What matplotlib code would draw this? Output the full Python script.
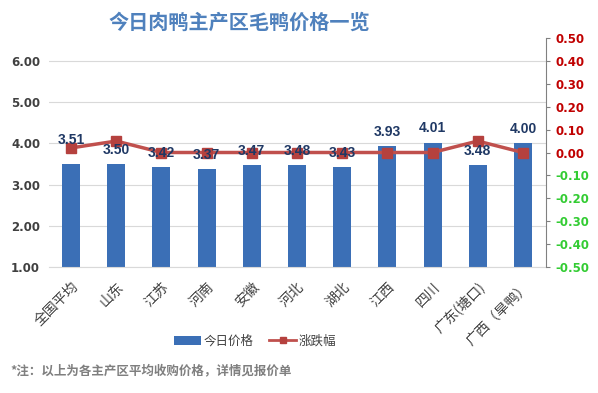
import matplotlib
matplotlib.use("Agg")
import matplotlib.pyplot as plt
import numpy as np

plt.rcParams['font.family'] = ['Noto Sans CJK SC', 'DejaVu Sans']

categories = ['全国平均', '山东', '江苏', '河南', '安徽', '河北', '湖北', '江西', '四川', '广东(塘口)', '广西（旱鸭）']
prices = [3.51, 3.50, 3.42, 3.37, 3.47, 3.48, 3.43, 3.93, 4.01, 3.48, 4.00]
changes = [0.02, 0.05, 0.00, 0.00, 0.00, 0.00, 0.00, 0.00, 0.00, 0.05, 0.00]
left_ticks = [1.0, 2.0, 3.0, 4.0, 5.0, 6.0]
right_ticks = [-0.5, -0.4, -0.3, -0.2, -0.1, 0.0, 0.1, 0.2, 0.3, 0.4, 0.5]

W, H = 598, 393
fig = plt.figure(figsize=(W/100, H/100), dpi=100)
fig.patch.set_facecolor('white')

ax = fig.add_axes([48.5/W, (H-267)/H, 497/W, 229/H])
x = np.arange(len(categories))
bar_color = '#3B6FB6'
ax.bar(x, prices, width=0.4, color=bar_color, zorder=2)
ax.set_xlim(-0.5, len(categories)-0.5)
ax.set_ylim(1, 6.56)
ax.set_yticks(left_ticks)
ax.set_yticklabels([f'{v:.2f}' for v in left_ticks], fontsize=8.5, color='#404040', fontweight='bold', family='DejaVu Sans')
ax.yaxis.grid(True, color='#D9D9D9', linewidth=0.8, zorder=0)
ax.set_axisbelow(True)
for s in ['top', 'right', 'left']:
    ax.spines[s].set_visible(False)
ax.spines['bottom'].set_color('#D9D9D9')
ax.tick_params(axis='y', length=0, pad=6)
ax.tick_params(axis='x', length=0, pad=9)
ax.set_xticks(x)
ax.set_xticklabels(categories, rotation=45, ha='right', va='top', rotation_mode='anchor', fontsize=10, color='#404040')

ax2 = ax.twinx()
line_color = '#C0504D'
ax2.plot(x, changes, color=line_color, linewidth=2.5, marker='s', markersize=6.5,
         markerfacecolor='#B5413E', markeredgecolor='#B5413E', zorder=4)
ax2.set_ylim(-0.5, 0.5)
ax2.set_yticks(right_ticks)
labs = ax2.set_yticklabels([f'{v:.2f}' for v in right_ticks], fontsize=8.5, fontweight='bold', family='DejaVu Sans')
for v, t in zip(right_ticks, labs):
    t.set_color('#C00000' if v >= 0 else '#33CC33')
for s in ['top', 'left', 'bottom']:
    ax2.spines[s].set_visible(False)
ax2.spines['right'].set_color('#808080')
ax2.tick_params(axis='y', length=3, color='#808080', pad=4)

offsets = [17, 10, 10, 10, 10, 10, 10, 10.5, 10.5, 10, 10.5]
for xi, p, off in zip(x, prices, offsets):
    ax2.annotate(f'{p:.2f}', (xi, p), xycoords=ax.transData, xytext=(0, off), textcoords='offset points',
                 ha='center', va='center', fontsize=10, fontweight='bold', color='#1F3864',
                 family='Liberation Sans', zorder=6)

from matplotlib.patches import Patch
from matplotlib.lines import Line2D
handles = [Patch(facecolor=bar_color, edgecolor='none'),
           Line2D([0], [0], color=line_color, linewidth=2, marker='s', markersize=5, markerfacecolor='#B5413E', markeredgecolor='#B5413E')]
fig.legend(handles, ['今日价格', '涨跌幅'], loc='center', bbox_to_anchor=(255/W, 1-341/H), ncol=2,
           frameon=False, fontsize=9, handlelength=2.2, handletextpad=0.2, columnspacing=1.2,
           labelcolor='#404040')

fig.text(239/W, 1-22/H, '今日肉鸭主产区毛鸭价格一览', ha='center', va='center', fontsize=14.5,
         fontweight='bold', color='#4F81BD')
fig.text(10/W, 1-371/H, '*注：以上为各主产区平均收购价格，详情见报价单', ha='left', va='center', fontsize=9,
         fontweight='bold', color='#7F7F7F')

fig.savefig('out.png', dpi=100)
